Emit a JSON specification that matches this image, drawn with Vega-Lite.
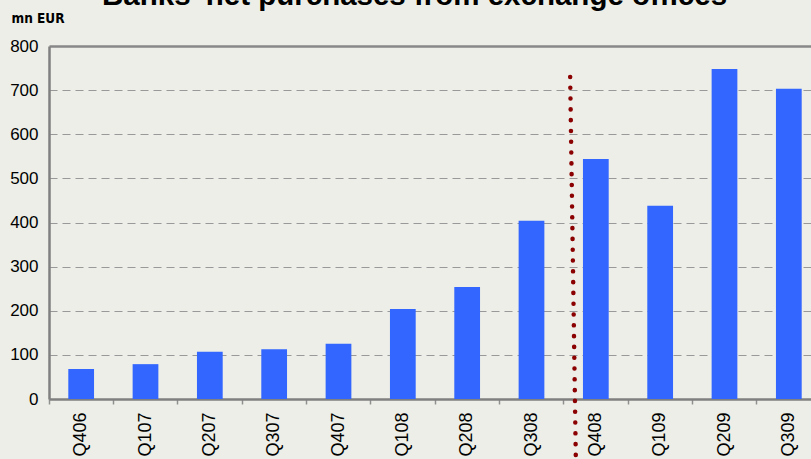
{
  "$schema": "https://vega.github.io/schema/vega-lite/v6.json",
  "width": 772,
  "height": 353,
  "autosize": {"type": "none"},
  "padding": {"left": 49, "top": 46, "right": 0, "bottom": 60},
  "background": "#eceee7",
  "config": {
    "view": {"stroke": null},
    "font": "Liberation Sans"
  },
  "title": {
    "text": "Banks' net purchases from exchange offices",
    "font": "Liberation Sans",
    "fontSize": 29.5,
    "fontWeight": "bold",
    "color": "#000000",
    "anchor": "start",
    "frame": "group",
    "dx": 53,
    "dy": 28,
    "baseline": "alphabetic",
    "offset": 5
  },
  "layer": [
    {
      "data": {
        "values": [
          {"quarter": "Q406", "value": 68},
          {"quarter": "Q107", "value": 79},
          {"quarter": "Q207", "value": 107},
          {"quarter": "Q307", "value": 113},
          {"quarter": "Q407", "value": 125},
          {"quarter": "Q108", "value": 204},
          {"quarter": "Q208", "value": 254},
          {"quarter": "Q308", "value": 404},
          {"quarter": "Q408", "value": 544},
          {"quarter": "Q109", "value": 438},
          {"quarter": "Q209", "value": 748},
          {"quarter": "Q309", "value": 703}
        ]
      },
      "mark": {"type": "bar", "color": "#3366ff", "width": {"band": 0.4}},
      "encoding": {
        "x": {
          "field": "quarter",
          "type": "nominal",
          "sort": ["Q406", "Q107", "Q207", "Q307", "Q407", "Q108", "Q208", "Q308", "Q408", "Q109", "Q209", "Q309"],
          "scale": {"paddingInner": 0, "paddingOuter": 0},
          "axis": {
            "title": null,
            "bandPosition": 0,
            "labelAngle": -90,
            "labelAlign": "right",
            "labelBaseline": "middle",
            "labelFontSize": 18,
            "labelColor": "#000000",
            "labelPadding": 8,
            "tickSize": 5,
            "tickColor": "#909090",
            "tickWidth": 1.5,
            "domainColor": "#808080",
            "domainWidth": 2.5,
            "grid": false
          }
        },
        "y": {
          "field": "value",
          "type": "quantitative",
          "scale": {"domain": [0, 800], "nice": false},
          "axis": {
            "title": "mn EUR",
            "titleAngle": 0,
            "titleAlign": "left",
            "titleBaseline": "alphabetic",
            "titleX": -38,
            "titleY": -24,
            "titleFont": "DejaVu Sans Condensed",
            "titleFontSize": 13.5,
            "titleFontWeight": "bold",
            "titleColor": "#000000",
            "values": [0, 100, 200, 300, 400, 500, 600, 700, 800],
            "labelFontSize": 17,
            "labelColor": "#000000",
            "labelPadding": 11,
            "tickSize": 0,
            "domainColor": "#808080",
            "domainWidth": 2.5,
            "grid": true,
            "gridColor": {"condition": {"test": "datum.value === 800", "value": "#888888"}, "value": "#999999"},
            "gridWidth": {"condition": {"test": "datum.value === 800", "value": 2.5}, "value": 1},
            "gridDash": {"condition": {"test": "datum.value === 800", "value": []}, "value": [8, 5]}
          }
        }
      }
    },
    {
      "data": {"values": [{"quarter": "Q408", "top": 730, "bottom": -138}]},
      "mark": {
        "type": "rule",
        "color": "#8b0000",
        "strokeWidth": 4.5,
        "strokeCap": "round",
        "strokeDash": [0.1, 10.7],
        "xOffset": 6.5,
        "x2Offset": -20
      },
      "encoding": {
        "x": {"field": "quarter", "type": "nominal", "bandPosition": 0, "sort": ["Q406", "Q107", "Q207", "Q307", "Q407", "Q108", "Q208", "Q308", "Q408", "Q109", "Q209", "Q309"]},
        "x2": {"field": "quarter"},
        "y": {"field": "top", "type": "quantitative"},
        "y2": {"field": "bottom"}
      }
    }
  ]
}
